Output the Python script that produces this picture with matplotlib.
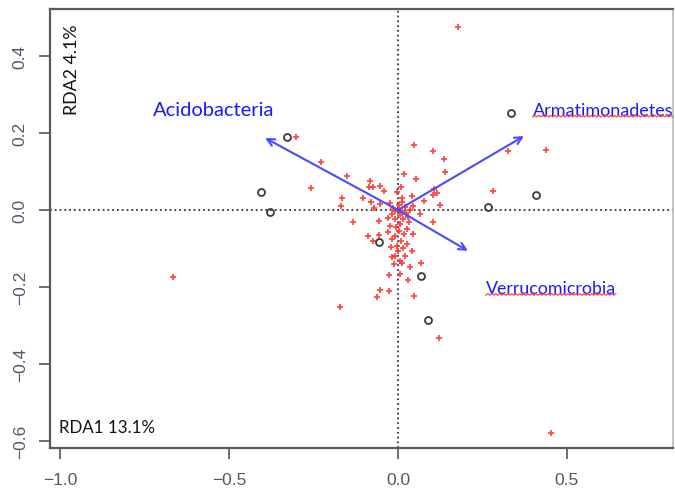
import numpy as np
import matplotlib
matplotlib.use('Agg')
import matplotlib.pyplot as plt
from matplotlib.transforms import IdentityTransform

# Site scores (red crosses)
site_x = [-0.302, -0.228, -0.257, -0.666, 0.178, 0.453, 0.121, -0.172, -0.062, -0.053,
          -0.027, 0.047, 0.030, 0.047, 0.104, 0.136, 0.139, 0.018, 0.053, 0.325,
          0.438, 0.281, 0.124, -0.151, -0.083, -0.086, -0.074, -0.053, -0.041, -0.166,
          -0.104, -0.080, -0.169, -0.071, -0.053, -0.003, -0.024, 0.012, 0.041, 0.077,
          0.107, 0.115, 0.104, -0.009, 0.065, -0.133, -0.056, 0.104, -0.089, -0.074,
          -0.056, 0.044, 0.041, 0.068, -0.012, -0.027, 0.006, 0.012, 0.036, -0.003,
          0.015, -0.009, 0.021, -0.024, 0.006, 0.027, -0.030, -0.009, 0.018, 0.012,
          0.000, 0.012, 0.024, 0.036, 0.006, -0.018, -0.009, 0.015, 0.030, -0.006,
          -0.018, 0.009, 0.000, -0.018, 0.006, 0.021, -0.015, 0.045, 0.027, -0.021,
          0.033, 0.003, -0.030, 0.003, 0.009]
site_y = [0.190, 0.125, 0.057, -0.174, 0.475, -0.579, -0.332, -0.252, -0.226, -0.208,
          -0.210, -0.223, -0.182, 0.169, 0.153, 0.132, 0.099, 0.094, 0.081, 0.153,
          0.156, 0.049, 0.013, 0.088, 0.075, 0.060, 0.060, 0.062, 0.049, 0.031,
          0.031, 0.021, 0.010, 0.005, 0.016, 0.047, 0.018, 0.031, 0.036, 0.023,
          0.055, 0.044, 0.039, -0.003, -0.010, -0.031, -0.029, -0.031, -0.068, -0.081,
          -0.065, -0.062, -0.106, -0.138, -0.140, -0.169, -0.166, -0.138, -0.148, -0.094,
          -0.099, -0.119, -0.119, -0.042, -0.036, -0.049, -0.057, -0.068, -0.062, 0.021,
          0.003, -0.003, -0.008, 0.000, -0.013, -0.010, -0.023, -0.023, -0.018, -0.044,
          -0.075, -0.081, -0.107, -0.122, -0.132, 0.008, 0.005, 0.010, -0.088, -0.096,
          -0.031, -0.055, -0.020, 0.012, 0.060]

# Sample scores (open circles)
samp_x = [-0.328, -0.405, -0.379, -0.056, 0.068, 0.089, 0.266, 0.408, 0.334]
samp_y = [0.190, 0.047, -0.005, -0.083, -0.171, -0.286, 0.008, 0.039, 0.252]

# Phylum vectors
phyla = ['Acidobacteria', 'Armatimonadetes', 'Verrucomicrobia']
vec_x = [-0.393, 0.373, 0.207]
vec_y = [0.187, 0.192, -0.106]
lab_x = [-0.725, 0.399, 0.260]
lab_y = [0.247, 0.247, -0.216]
lab_size = [14.5, 13.0, 12.8]
squiggly = [False, True, True]

fig = plt.figure(figsize=(6.75, 5.02), dpi=100)
ax = fig.add_axes([0.074, 0.1056, 0.923, 0.8745])

ax.axhline(0, color='#333333', ls=':', lw=1.3, zorder=1)
ax.axvline(0, color='#333333', ls=':', lw=1.3, zorder=1)

ax.plot(site_x, site_y, ls='none', marker='+', ms=5, mew=1.3,
        color='#ff2a2a', alpha=0.85, zorder=2)
ax.plot(samp_x, samp_y, ls='none', marker='o', ms=5, mew=1.3,
        mfc='none', mec='#3a3a3a', zorder=3)

for vx, vy in zip(vec_x, vec_y):
    ax.annotate('', xy=(vx, vy), xytext=(0, 0),
                arrowprops=dict(arrowstyle='->', color='#4a4aff', lw=1.5,
                                mutation_scale=13, shrinkA=0, shrinkB=0),
                zorder=4)

labels = []
for name, tx, ty, fs in zip(phyla, lab_x, lab_y, lab_size):
    labels.append(ax.text(tx, ty, name, color='#1a1aff', fontsize=fs,
                          family='Lato', ha='left', va='baseline'))

ax.text(0.035, 0.966, 'RDA2 4.1%', transform=ax.transAxes, rotation=90,
        ha='center', va='top', fontsize=12.8, family='Lato', color='#111111')
ax.text(0.0145, 0.037, 'RDA1 13.1%', transform=ax.transAxes,
        ha='left', va='baseline', fontsize=12.2, family='Lato', color='#111111')

ax.set_xlim(-1.03, 0.814)
ax.set_ylim(-0.618, 0.522)
ax.set_xticks([-1.0, -0.5, 0.0, 0.5])
ax.set_yticks([-0.6, -0.4, -0.2, 0.0, 0.2, 0.4])

tick_col = '#4d5a68'
ax.tick_params(axis='both', direction='out', length=8, width=1.2,
               color='#555555', labelcolor=tick_col, labelsize=12.5)
ax.tick_params(axis='x', pad=9)
ax.tick_params(axis='y', pad=8, labelrotation=90)
for lab in ax.get_yticklabels():
    lab.set_va('center')
    lab.set_family('Liberation Sans')
for lab in ax.get_xticklabels():
    lab.set_family('Liberation Sans')

for side in ['left', 'bottom', 'top']:
    ax.spines[side].set_color('#5a5a5a')
    ax.spines[side].set_linewidth(1.6)
ax.spines['right'].set_color('#bbbbbb')
ax.spines['right'].set_linewidth(1.2)

# wavy spell-check underline beneath some labels
fig.canvas.draw()
renderer = fig.canvas.get_renderer()
for txt, wavy in zip(labels, squiggly):
    if not wavy:
        continue
    bb = txt.get_window_extent(renderer)
    xs = np.arange(bb.x0, bb.x1, 2.0)
    base = bb.y0 + 1.0
    ys = base + np.where(np.arange(len(xs)) % 2 == 0, 0.0, 1.5)
    fig.add_artist(plt.Line2D(xs, ys, transform=IdentityTransform(),
                              color='#ff4040', lw=0.9))

fig.savefig('out.png', dpi=100)
